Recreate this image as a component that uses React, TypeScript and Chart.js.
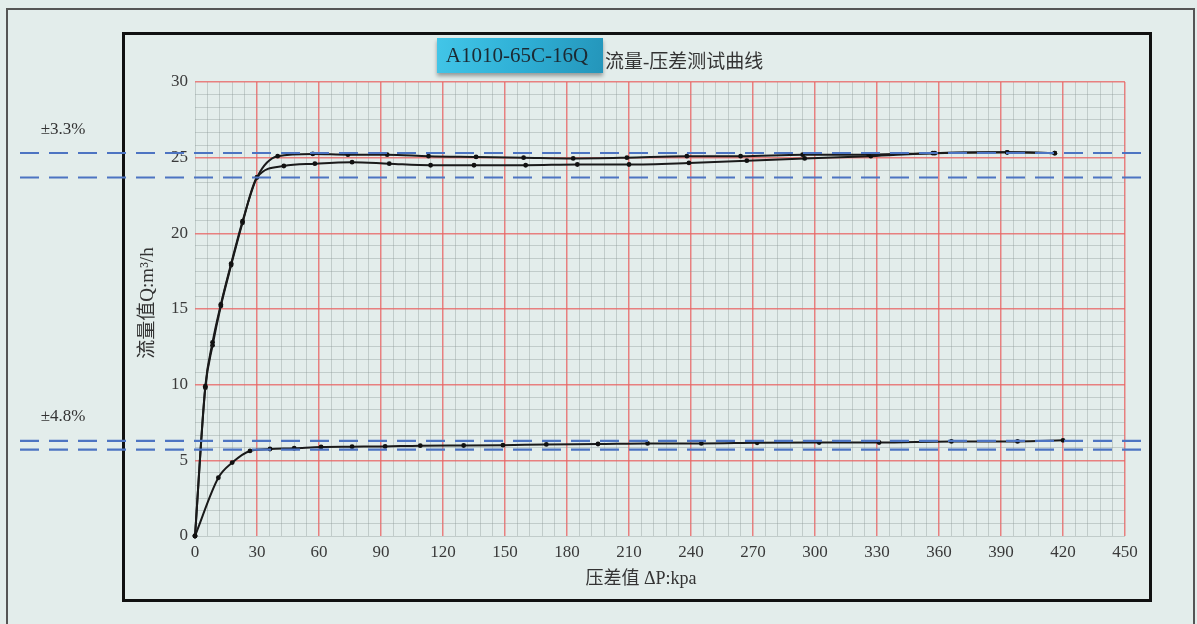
import React, { useEffect, useRef } from "react";
import { Chart, registerables } from "chart.js";

Chart.register(...registerables);

// ---- data ----
const dpUpper = [0, 5, 8.5, 12.5, 17.5, 23, 30, 40, 57, 74, 93, 113, 136, 159, 183, 209, 238, 264, 294, 326, 358, 393, 416];
const qUpper = [0, 9.9, 12.8, 15.3, 18.0, 20.8, 23.7, 25.1, 25.25, 25.2, 25.2, 25.1, 25.05, 25.0, 24.95, 25.0, 25.1, 25.1, 25.2, 25.2, 25.3, 25.35, 25.3];

const dpMiddle = [0, 5, 8.5, 12.5, 17.5, 23, 30, 43, 58, 76, 94, 114, 135, 160, 185, 210, 239, 267, 295, 327, 357, 393, 416];
const qMiddle = [0, 9.8, 12.6, 15.2, 17.9, 20.7, 23.7, 24.45, 24.6, 24.7, 24.6, 24.5, 24.5, 24.5, 24.55, 24.55, 24.65, 24.8, 24.95, 25.1, 25.3, 25.35, 25.3];

const dpLower = [0, 11.3, 18, 26.6, 36.3, 48, 61, 76, 92, 109, 130, 149, 170, 195, 219, 245, 272, 302, 331, 366, 398, 420];
const qLower = [0, 3.85, 4.85, 5.62, 5.75, 5.8, 5.88, 5.9, 5.92, 5.97, 5.98, 6.0, 6.05, 6.08, 6.12, 6.12, 6.16, 6.18, 6.18, 6.25, 6.25, 6.32];

const toleranceLevels = [25.31, 23.69, 6.29, 5.71];
const toleranceLabels = ["±3.3%", "±4.8%"];

const xMax = 450;
const xMajorStep = 30;
const xMinorStep = 6;
const yMax = 30;
const yMajorStep = 5;
const yMinorStep = 5 / 6;

const modelName = "A1010-65C-16Q";
const chartTitle = "流量-压差测试曲线";
const xTitle = "压差值 ΔP:kpa";
const yTitle = "流量值Q:m³/h";

const SERIF = "'Liberation Serif', 'Noto Sans CJK SC', serif";
const MAJOR = "rgba(232,100,100,0.8)";
const MINOR = "rgba(140,150,150,0.38)";

function isMultiple(v: number, step: number) {
  const r = v / step;
  return Math.abs(r - Math.round(r)) < 1e-6;
}

const decorPlugin = {
  id: "decor",
  beforeDraw(chart: any) {
    const ctx = chart.ctx;
    ctx.save();
    ctx.fillStyle = "#e3edeb";
    ctx.fillRect(0, 0, chart.width, chart.height);
    ctx.strokeStyle = "#555";
    ctx.lineWidth = 2;
    ctx.beginPath();
    ctx.moveTo(7, 624);
    ctx.lineTo(7, 9);
    ctx.lineTo(1194, 9);
    ctx.lineTo(1194, 624);
    ctx.stroke();
    ctx.strokeStyle = "#111";
    ctx.lineWidth = 3;
    ctx.strokeRect(123.5, 33.5, 1027, 567);
    ctx.restore();
  },
  afterDatasetsDraw(chart: any) {
    const ctx = chart.ctx;
    const y = chart.scales.y;
    ctx.save();
    ctx.strokeStyle = "#4d74c2";
    ctx.lineWidth = 2.2;
    ctx.setLineDash([19, 10]);
    toleranceLevels.forEach((lv) => {
      const py = y.getPixelForValue(lv);
      ctx.beginPath();
      ctx.moveTo(20, py);
      ctx.lineTo(1146, py);
      ctx.stroke();
    });
    ctx.setLineDash([]);
    ctx.fillStyle = "#333";
    ctx.font = `17px ${SERIF}`;
    ctx.textAlign = "center";
    ctx.textBaseline = "middle";
    ctx.fillText(toleranceLabels[0], 63, y.getPixelForValue(toleranceLevels[0]) - 23);
    ctx.fillText(toleranceLabels[1], 63, y.getPixelForValue(toleranceLevels[2]) - 24);
    ctx.restore();
  },
  afterDraw(chart: any) {
    const ctx = chart.ctx;
    ctx.save();
    const bx = 437, by = 38, bw = 166, bh = 35;
    ctx.shadowColor = "rgba(0,0,0,0.35)";
    ctx.shadowBlur = 4;
    ctx.shadowOffsetY = 3;
    const g = ctx.createLinearGradient(bx, by, bx + bw, by + bh);
    g.addColorStop(0, "#42c6e8");
    g.addColorStop(0.5, "#2fb0d6");
    g.addColorStop(1, "#2495ba");
    ctx.fillStyle = g;
    ctx.fillRect(bx, by, bw, bh);
    ctx.shadowColor = "transparent";
    ctx.fillStyle = "#1c2a33";
    ctx.font = `21px ${SERIF}`;
    ctx.textAlign = "center";
    ctx.textBaseline = "middle";
    ctx.fillText(modelName, bx + bw / 2 - 3, by + bh / 2 + 1);
    ctx.fillStyle = "#333";
    ctx.font = `19px ${SERIF}`;
    ctx.textAlign = "left";
    ctx.fillText(chartTitle, 605, 63);
    ctx.font = `18px ${SERIF}`;
    ctx.textAlign = "center";
    ctx.fillText(xTitle, 641, 579);
    ctx.translate(148, 303);
    ctx.rotate(-Math.PI / 2);
    ctx.font = `19px ${SERIF}`;
    ctx.fillText(yTitle, 0, 0);
    ctx.restore();
  },
};

function series(xs: number[], ys: number[]) {
  return xs.map((x, i) => ({ x, y: ys[i] }));
}

const lineStyle = {
  showLine: true,
  borderColor: "#1a1a1a",
  borderWidth: 2,
  pointRadius: 2.4,
  pointBackgroundColor: "#111",
  pointBorderWidth: 0,
  cubicInterpolationMode: "monotone" as const,
  clip: false as any,
};

export default function App() {
  const ref = useRef<HTMLCanvasElement>(null);
  useEffect(() => {
    document.body.style.margin = "0";
    const chart = new Chart(ref.current!, {
      type: "scatter",
      data: {
        datasets: [
          { label: "upper", data: series(dpUpper, qUpper), ...lineStyle },
          { label: "middle", data: series(dpMiddle, qMiddle), ...lineStyle },
          { label: "lower", data: series(dpLower, qLower), ...lineStyle },
        ],
      },
      options: {
        animation: false,
        responsive: false,
        devicePixelRatio: 1,
        layout: { padding: { top: 82, right: 72, left: 0, bottom: 0 } },
        plugins: { legend: { display: false }, tooltip: { enabled: false }, title: { display: false } },
        scales: {
          x: {
            type: "linear",
            min: 0,
            max: xMax,
            afterFit: (s: any) => { s.height = 88; },
            border: { display: false },
            grid: {
              drawTicks: false,
              color: (c: any) => {
                const v = c.tick ? c.tick.value : 0;
                return v !== 0 && isMultiple(v, xMajorStep) ? MAJOR : MINOR;
              },
              lineWidth: (c: any) => {
                const v = c.tick ? c.tick.value : 0;
                return v !== 0 && isMultiple(v, xMajorStep) ? 1.5 : 1;
              },
            },
            ticks: {
              stepSize: xMinorStep,
              autoSkip: false,
              maxRotation: 0,
              padding: 6,
              color: "#3a3a3a",
              font: { family: SERIF, size: 17 },
              callback: (v: any) => (isMultiple(Number(v), xMajorStep) ? String(Math.round(Number(v))) : ""),
            },
          },
          y: {
            type: "linear",
            min: 0,
            max: yMax,
            afterFit: (s: any) => { s.width = 195; },
            border: { display: false },
            grid: {
              drawTicks: false,
              color: (c: any) => {
                const v = c.tick ? c.tick.value : 0;
                return Math.abs(v) > 1e-6 && isMultiple(v, yMajorStep) ? MAJOR : MINOR;
              },
              lineWidth: (c: any) => {
                const v = c.tick ? c.tick.value : 0;
                return Math.abs(v) > 1e-6 && isMultiple(v, yMajorStep) ? 1.5 : 1;
              },
            },
            ticks: {
              stepSize: yMinorStep,
              autoSkip: false,
              padding: 7,
              color: "#3a3a3a",
              font: { family: SERIF, size: 17 },
              callback: (v: any) => (isMultiple(Number(v), yMajorStep) ? String(Math.round(Number(v))) : ""),
            },
          },
        },
      },
      plugins: [decorPlugin],
    });
    return () => chart.destroy();
  }, []);
  return (
    <div style={{ width: 1197, height: 624 }}>
      <canvas ref={ref} width={1197} height={624} style={{ display: "block" }} />
    </div>
  );
}
